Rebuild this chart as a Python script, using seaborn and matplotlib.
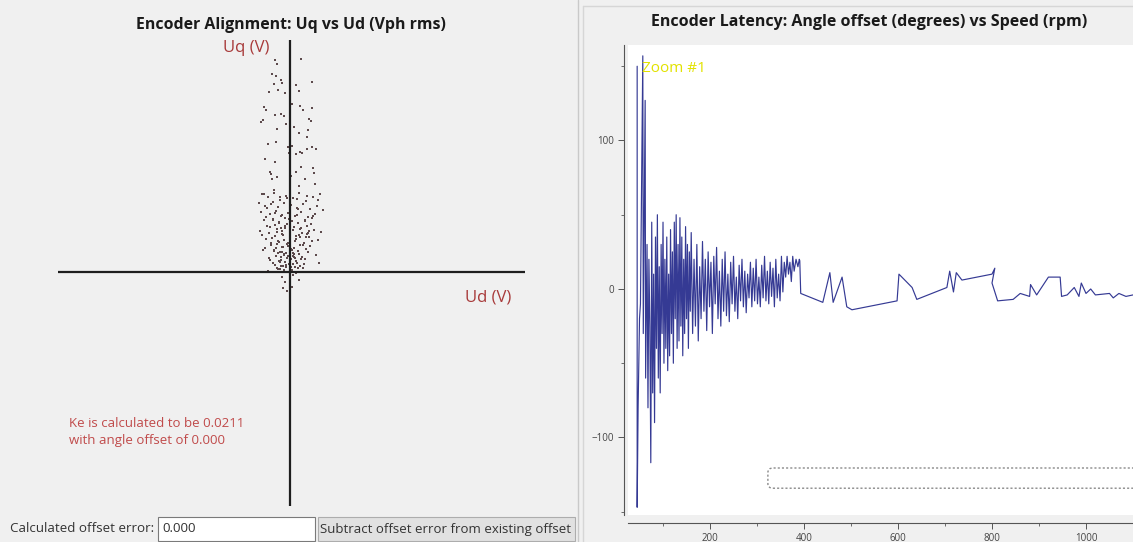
import matplotlib
matplotlib.use('Agg')
import matplotlib.pyplot as plt
import seaborn as sns
import pandas as pd
from matplotlib.patches import Rectangle, FancyBboxPatch

# left panel: Uq vs Ud scatter (arbitrary units, origin at the cross)
ud = [
    -1.5, -1.3, -1.8, -1.4, -0.9, -0.8, -1.6, -1.2,
    1.1, 0.0, 0.6, 2.2, -2.1, 0.9, -0.5, 0.2,
    -2.6, -2.4, 1.0, 1.3, 2.2, -1.5, -0.9, -0.6,
    -2.7, -2.9, 0.0, 2.1, 1.9, -1.3, 0.4, -0.4,
    1.8, 0.9, 1.7, -0.2, -1.4, -2.2, 0.2, 1.0,
    1.7, 2.2, 2.6, -0.1, 0.6, 1.2, -2.5, -1.5,
    -2.0, -1.9, 2.3, 2.4, 0.6, 1.1, -1.3, -1.8,
    0.1, 1.5, 0.9, -1.6, -2.6, 2.5, 0.7, 1.7,
    -1.0, -0.3, 2.8, -1.7,
    -2.8, -2.2, -1.6, -1.0, -0.4, 0.3, 0.9, 1.6,
    2.3, 3.0, -3.1, -2.5, -1.9, -1.2, -0.6, 0.1,
    0.7, 1.3, 2.0, 2.7, 3.3, -2.9, -2.0, -1.4,
    -0.8, -0.2, 0.5, 1.1, 1.8, 2.5, -2.6, -1.7,
    -1.1, -0.5, 0.2, 0.8, 1.5, 2.1, -2.3, -1.5,
    -0.9, -0.3, 0.4, 1.0, 1.7, 2.4, 3.1, -3.0,
    -2.1, -1.3, -0.7, 0.0, 0.6, 1.2, 1.9, -2.4,
    -1.8, -1.2, -0.6, 0.0, 0.6, 1.4, 2.2, -1.9,
    -1.3, -0.8, -0.2, 0.4, 1.0, 1.6, -2.7, -1.6,
    -1.0, -0.4, 0.2, 0.9, 1.8, 2.6, -1.4, -0.9,
    -0.3, 0.3, 1.1, -2.0, -1.1, -0.5, 0.1, 0.7,
    1.4, 2.9, -1.5, -0.7, -0.1, 0.5, 1.3, -1.0,
    -0.4, 0.2, 0.8, -2.2, -1.2, -0.6, 0.0, 1.0,
    -0.8, -0.2, 0.4, 1.7, -1.4, -0.5, 0.3, -0.9,
    -2.4, -1.7, -0.9, -0.1, 0.7, 1.5, 2.2, -2.0,
    -1.3, -0.5, 0.3, 1.1, 1.9, -2.8, -1.5, -0.8,
    0.0, 0.9, 1.6, 2.8, -1.9, -1.1, -0.3, 0.5,
    1.3, -2.5, -1.6, -0.7, 0.1, 0.8, 2.0, -1.2,
    -0.6, 0.4, 1.2, -2.1, -0.9, -0.2, 0.6, 1.5,
    -1.7, -1.0, -0.4, 0.3, 1.0, -1.3, -0.6, 0.1,
    -2.3, -1.5, 0.8, 2.3, -0.8, 0.5, -1.1, 1.8,
    -0.8, 0.3, -0.5, 0.9, -0.7, 0.2, -0.3, 0.6,
]
uq = [
    21.2, 20.8, 19.8, 19.6, 19.2, 18.9, 18.8, 18.2,
    21.3, 19.7, 18.7, 19.0, 18.0, 18.1, 17.9, 16.8,
    16.5, 16.2, 16.6, 16.2, 16.4, 15.7, 15.8, 15.6,
    15.2, 15.0, 15.5, 15.1, 15.3, 14.3, 14.5, 14.8,
    14.2, 13.9, 13.5, 12.5, 13.0, 12.8, 12.6, 12.0,
    12.3, 12.5, 12.3, 11.9, 11.8, 11.9, 11.3, 11.0,
    10.0, 9.8, 10.4, 9.9, 10.0, 10.5, 9.5, 9.3,
    9.6, 9.3, 8.6, 8.2, 7.8, 8.8, 7.3, 7.6,
    7.5, 7.4, 7.2, 7.0,
    7.8, 7.5, 7.9, 7.2, 7.6, 7.4, 7.9, 7.1,
    7.5, 7.8, 6.9, 6.6, 6.8, 6.5, 6.9, 6.7,
    6.4, 6.8, 6.3, 6.6, 6.2, 6.0, 5.8, 6.1,
    5.7, 5.9, 5.6, 6.0, 5.5, 5.8, 5.2, 5.3,
    5.0, 5.4, 5.1, 4.9, 5.2, 4.8, 4.6, 4.7,
    4.4, 4.8, 4.5, 4.3, 4.6, 4.2, 4.0, 4.1,
    3.9, 4.0, 3.7, 3.8, 3.6, 3.9, 3.5, 3.3,
    3.4, 3.1, 3.2, 3.0, 3.3, 2.9, 3.1, 2.7,
    2.8, 2.5, 2.6, 2.4, 2.7, 2.3, 2.2, 2.1,
    2.0, 1.9, 2.2, 1.8, 2.0, 1.7, 1.6, 1.5,
    1.4, 1.6, 1.3, 1.2, 1.1, 1.0, 1.3, 0.9,
    0.8, 0.9, 0.7, 0.6, 0.8, 0.5, 0.4, 0.3,
    0.5, 0.2, 0.4, 0.1, 0.3, 1.8, 2.6, 3.5,
    4.1, 2.9, 1.5, 3.8, 2.4, 4.4, 1.9, 0.6,
    5.5, 5.2, 5.6, 5.3, 5.7, 5.1, 5.4, 4.5,
    4.3, 4.6, 4.2, 4.4, 4.1, 3.7, 3.6, 3.8,
    3.4, 3.7, 3.5, 3.2, 2.9, 3.0, 2.8, 3.1,
    2.7, 2.4, 2.2, 2.5, 2.3, 2.1, 2.6, 1.9,
    1.7, 1.8, 1.5, 1.4, 1.2, 1.6, 1.1, 1.3,
    0.9, 1.0, 0.7, 0.8, 0.6, 0.4, 0.2, 0.5,
    6.4, 5.9, 6.3, 5.6, 2.0, 1.4, 4.9, 3.9,
    -0.5, -0.3, -1.0, -0.8, -1.6, -1.5, -1.9, -0.1,
]

# right panel: angle offset vs speed
speed_rpm = [
    45, 45, 47, 50, 52, 57, 58, 62, 63, 66,
    68, 70, 72, 74, 76, 78, 80, 82, 84, 86,
    88, 90, 92, 94, 96, 98, 100, 102, 104, 106,
    108, 110, 112, 114, 116, 118, 120, 122, 124, 126,
    128, 130, 132, 134, 136, 138, 140, 142, 144, 146,
    148, 150, 152, 154, 156, 158, 160, 163, 166, 169,
    172, 175, 178, 181, 184, 187, 190, 193, 196, 199,
    202, 205, 208, 211, 214, 217, 220, 223, 226, 229,
    232, 235, 238, 241, 244, 247, 250, 253, 256, 259,
    262, 265, 268, 271, 274, 277, 280, 283, 286, 289,
    292, 295, 298, 301, 304, 307, 310, 313, 316, 319,
    322, 325, 328, 331, 334, 337, 340, 343, 346, 349,
    352, 355, 358, 361, 364, 367, 370, 373, 376, 379,
    383, 387, 390,
    391, 393, 440, 455, 462, 481, 491, 502, 598, 602,
    630, 640, 704, 710, 718, 724, 736, 800, 806, 800,
    812, 845, 860, 880, 882, 895, 920, 945, 948, 960,
    975, 985, 990, 1000, 1010, 1020, 1050, 1058, 1070, 1085,
    1100,
]
angle_deg = [
    150, -147, -80, -20, -10, 157, -30, 127, -60, 30,
    -80, 20, -25, -117, 45, -70, 10, -90, 35, -40,
    50, -60, 15, -70, 30, -30, 45, -50, 20, -40,
    35, -55, 10, -45, 40, -30, 25, -50, 45, -20,
    50, -40, 30, -35, 48, -25, 35, -45, 20, -30,
    42, -20, 30, -40, 25, -15, 38, -30, 20, -25,
    30, -35, 15, -20, 32, -15, 20, -28, 25, -12,
    18, -30, 22, -10, 28, -20, 12, -25, 20, -15,
    25, -18, 10, -22, 18, -10, 22, -15, 8, -20,
    16, -8, 20, -12, 12, -16, 10, -6, 18, -12,
    14, -8, 20, -10, 8, -12, 16, -6, 22, -8,
    12, -10, 18, -5, 14, -12, 20, -6, 10, -8,
    22, -2, 18, 8, 22, 10, 18, 5, 22, 12,
    20, 15, 20,
    19, -3, -9, 11, -9, 8, -12, -14, -8, 10,
    1, -7, 1, 12, -2, 11, 6, 10, 14, 4,
    -8, -7, -3, -5, 3, -4, 8, 8, -5, -4,
    1, -5, 4, -3, 0, -4, -3, -6, -3, -5,
    -4,
]

y_ticks = [-100, 0, 100]
x_ticks = [200, 400, 600, 800, 1000]

W, H = 1133, 542


def fx(px):
    return px / W


def fy(py):
    return 1 - py / H


sns.set_theme(style='white')
plt.rcParams['font.family'] = ['Open Sans', 'DejaVu Sans']

fig = plt.figure(figsize=(W / 100, H / 100), dpi=100)
fig.patch.set_facecolor('#f0f0f0')

# panel borders
fig.add_artist(plt.Line2D([fx(578), fx(578)], [0, 1], color='#c9c9c9', lw=1))
fig.add_artist(plt.Line2D([fx(583), fx(583)], [0, fy(6)], color='#d6d6d6', lw=1))
fig.add_artist(plt.Line2D([fx(583), 1], [fy(6), fy(6)], color='#d6d6d6', lw=1))

# ---- left panel ----
fig.text(fx(291), fy(25), 'Encoder Alignment: Uq vs Ud (Vph rms)',
         ha='center', va='center', fontsize=11.4, fontweight='bold', color='#1a1a1a')

ax1 = fig.add_axes([fx(58), fy(506), (525 - 58) / W, (506 - 40) / H])
ax1.set_facecolor('none')
ax1.axis('off')
sns.scatterplot(x=ud, y=uq, ax=ax1, marker='s', s=4.2, color='#5d4a4c',
                linewidth=0, legend=False)
ax1.axhline(0, color='#1e1e1e', lw=1.6)
ax1.axvline(0, color='#1e1e1e', lw=1.6)
ax1.set_xlim(-23.2, 23.5)
ax1.set_ylim(-23.4, 23.2)

fig.text(fx(246), fy(48), 'Uq (V)', ha='center', va='center', fontsize=12, color='#a83a3a')
fig.text(fx(488), fy(297), 'Ud (V)', ha='center', va='center', fontsize=12, color='#a83a3a')
fig.text(fx(69), fy(432), 'Ke is calculated to be 0.0211\nwith angle offset of 0.000',
         ha='left', va='center', fontsize=9.5, color='#c04a4a', linespacing=1.4)

# bottom controls
fig.text(fx(10), fy(529), 'Calculated offset error:', ha='left', va='center',
         fontsize=9.6, color='#333333')
fig.add_artist(Rectangle((fx(158), fy(541)), (315 - 158) / W, 24 / H,
                         transform=fig.transFigure, facecolor='white',
                         edgecolor='#7a7a7a', lw=0.8))
fig.text(fx(162), fy(529), '0.000', ha='left', va='center', fontsize=9.6, color='#333333')
fig.add_artist(Rectangle((fx(318), fy(541)), (575 - 318) / W, 24 / H,
                         transform=fig.transFigure, facecolor='#e1e1e1',
                         edgecolor='#adadad', lw=0.8))
fig.text(fx(446), fy(529), 'Subtract offset error from existing offset', ha='center',
         va='center', fontsize=9.5, color='#333333')

# ---- right panel ----
fig.text(fx(869), fy(22), 'Encoder Latency: Angle offset (degrees) vs Speed (rpm)',
         ha='center', va='center', fontsize=11.5, fontweight='bold', color='#1a1a1a')

ax2 = fig.add_axes([fx(628), fy(515), (1133 - 628) / W, (515 - 45) / H])
ax2.set_facecolor('white')
df = pd.DataFrame({'speed': speed_rpm, 'angle': angle_deg})
sns.lineplot(data=df, x='speed', y='angle', sort=False, estimator=None, ax=ax2,
             color='#2a2f8e', lw=0.85, alpha=0.95)
ax2.set_xlim(25.5, 1100)
ax2.set_ylim(-152.2, 164.3)
ax2.set_xlabel('')
ax2.set_ylabel('')
ax2.set_xticks(x_ticks)
ax2.set_xticks([100, 300, 500, 700, 900], minor=True)
ax2.set_yticks(y_ticks)
ax2.set_yticks([-150, -50, 50, 150], minor=True)
for s in ['top', 'right']:
    ax2.spines[s].set_visible(False)
ax2.spines['left'].set_position(('outward', 3))
ax2.spines['bottom'].set_position(('outward', 6))
for s in ['left', 'bottom']:
    ax2.spines[s].set_color('#555555')
    ax2.spines[s].set_linewidth(0.8)
ax2.tick_params(axis='both', which='major', direction='out', length=4, width=0.7,
                color='#555555', labelsize=7, labelcolor='#444444', pad=3,
                left=True, bottom=True)
ax2.tick_params(axis='both', which='minor', direction='out', length=2.5, width=0.6,
                color='#555555', left=True, bottom=True)

ax2.text(0.027, 0.95, 'Zoom #1', transform=ax2.transAxes, ha='left', va='center',
         fontsize=11, color='#e2e200')
ax2.add_patch(FancyBboxPatch((0.277, 0.057), 0.75, 0.043, transform=ax2.transAxes,
                             boxstyle='round,pad=0,rounding_size=0.01',
                             facecolor='none', edgecolor='#8a8a8a', lw=1.0,
                             linestyle=(0, (1.5, 1.5)), clip_on=False))

fig.savefig('out.png', dpi=100, facecolor=fig.get_facecolor())
